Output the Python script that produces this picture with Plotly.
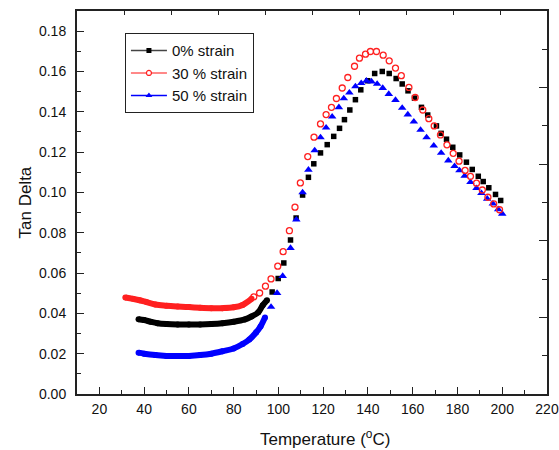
import plotly.graph_objects as go

# ---------------- data ----------------
# dense low-temperature bands
red_band_T = [31.6, 35, 38, 41, 45, 50, 55, 60, 65, 70, 75, 80, 84, 88]
red_band_V = [0.0479, 0.0472, 0.0465, 0.0456, 0.0444, 0.0438, 0.0434, 0.0431, 0.0428, 0.0426, 0.0426, 0.0430, 0.0442, 0.0472]

black_band_T = [37.5, 40, 43, 46, 50, 55, 60, 65, 70, 75, 80, 85, 88, 91, 93, 94.9]
black_band_V = [0.0371, 0.0367, 0.0358, 0.0351, 0.0347, 0.0345, 0.0345, 0.0345, 0.0347, 0.0351, 0.0358, 0.0370, 0.0385, 0.0405, 0.0440, 0.0465]

blue_band_T = [37.5, 40, 45, 50, 55, 60, 65, 70, 75, 80, 84, 87, 90, 92, 94]
blue_band_V = [0.0205, 0.0200, 0.0193, 0.0189, 0.0188, 0.0189, 0.0193, 0.0200, 0.0212, 0.0226, 0.0248, 0.0270, 0.0305, 0.0335, 0.0380]

# sparse points
red_T = [89.0, 91.6, 94.2, 96.7, 99.7, 102.1, 104.9, 107.4, 109.8, 113.1, 115.9, 118.8, 121.3, 123.7,
         125.9, 128.5, 131.0, 134.0, 136.2, 138.9, 141.1, 143.8, 146.8, 149.5, 152.3, 154.9, 158.3,
         161.1, 164.5, 167.2, 169.6, 172.4, 175.3, 178.1, 180.7, 183.4, 185.8, 188.5, 191.1, 193.6,
         196.2, 198.8]
red_V = [0.0482, 0.0501, 0.0535, 0.0571, 0.0634, 0.0706, 0.0810, 0.0927, 0.1047, 0.1178, 0.1274, 0.1340,
         0.1386, 0.1422, 0.1466, 0.1518, 0.1570, 0.1626, 0.1666, 0.1686, 0.1699, 0.1699, 0.1681, 0.1653,
         0.1617, 0.1579, 0.1521, 0.1471, 0.1409, 0.1366, 0.1330, 0.1285, 0.1236, 0.1194, 0.1155, 0.1109,
         0.1080, 0.1046, 0.1012, 0.0976, 0.0943, 0.0914]

black_T = [97.2, 99.9, 102.4, 105.4, 107.9, 110.8, 113.4, 115.8, 118.8, 121.8, 124.7, 127.3, 129.5, 131.9,
           134.4, 136.8, 139.9, 143.0, 146.4, 149.5, 152.6, 155.3, 157.9, 160.8, 163.9, 166.7, 170.6,
           172.7, 175.1, 177.9, 181.0, 184.0, 186.6, 189.3, 191.5, 194.0, 197.0, 199.3]
black_V = [0.0506, 0.0573, 0.0650, 0.0764, 0.0873, 0.0987, 0.1075, 0.1142, 0.1196, 0.1237, 0.1278, 0.1318,
           0.1361, 0.1409, 0.1460, 0.1509, 0.1554, 0.1590, 0.1600, 0.1590, 0.1565, 0.1538, 0.1504, 0.1468,
           0.1422, 0.1384, 0.1330, 0.1293, 0.1264, 0.1224, 0.1186, 0.1150, 0.1114, 0.1080, 0.1054, 0.1023,
           0.0990, 0.0960]

blue_T = [96.7, 99.4, 101.9, 105.4, 108.0, 110.8, 113.4, 116.2, 118.8, 121.3, 124.0, 127.0, 129.2, 131.7,
          134.4, 137.0, 139.3, 141.6, 144.1, 146.6, 149.3, 152.3, 155.3, 157.8, 160.5, 163.5, 166.2,
          169.4, 172.7, 175.9, 178.7, 180.9, 183.2, 185.8, 188.5, 190.7, 193.3, 195.8, 198.2, 200.0]
blue_V = [0.0432, 0.0501, 0.0585, 0.0724, 0.0865, 0.1000, 0.1112, 0.1208, 0.1273, 0.1321, 0.1376, 0.1422,
          0.1466, 0.1495, 0.1526, 0.1542, 0.1554, 0.1550, 0.1538, 0.1518, 0.1488, 0.1458, 0.1419, 0.1386,
          0.1351, 0.1310, 0.1273, 0.1232, 0.1196, 0.1158, 0.1130, 0.1109, 0.1082, 0.1051, 0.1021, 0.0996,
          0.0968, 0.0944, 0.0916, 0.0894]

series_names = ["0% strain", "30 % strain", "50 % strain"]
x_ticks = [20, 40, 60, 80, 100, 120, 140, 160, 180, 200, 220]
y_ticks = [0.00, 0.02, 0.04, 0.06, 0.08, 0.10, 0.12, 0.14, 0.16, 0.18]
X_RANGE = [10, 220]
Y_RANGE = [0, 0.19]

# ---------------- styles ----------------
BLACK, RED, BLUE = "#000000", "#ff2020", "#0000ff"
FONT = "Liberation Sans, Arial, sans-serif"

fig = go.Figure()

# bands
for T, V, c in [(red_band_T, red_band_V, RED), (black_band_T, black_band_V, BLACK), (blue_band_T, blue_band_V, BLUE)]:
    fig.add_trace(go.Scatter(x=T, y=V, mode="lines+markers", line=dict(color=c, width=6, shape="spline"),
                             marker=dict(color=c, size=6, symbol="circle"), showlegend=False, hoverinfo="skip"))

# sparse markers (red on the top frame axis, blue on the right frame axis; both share the main ranges)
fig.add_trace(go.Scatter(x=black_T, y=black_V, mode="markers", showlegend=False,
                         marker=dict(symbol="square", size=5.5, color=BLACK)))
fig.add_trace(go.Scatter(x=red_T, y=red_V, mode="markers", showlegend=False, xaxis="x2", yaxis="y",
                         marker=dict(symbol="circle-open", size=6, color=RED, line=dict(width=1.3, color=RED))))
fig.add_trace(go.Scatter(x=blue_T, y=blue_V, mode="markers", showlegend=False, xaxis="x", yaxis="y2",
                         marker=dict(symbol="triangle-up", size=7.5, color=BLUE)))

# legend entries
fig.add_trace(go.Scatter(x=[None], y=[None], mode="lines+markers", name=series_names[0],
                         line=dict(color="#444444", width=1.5), marker=dict(symbol="square", size=5, color=BLACK)))
fig.add_trace(go.Scatter(x=[None], y=[None], mode="lines+markers", name=series_names[1],
                         line=dict(color="#ff6060", width=1.5),
                         marker=dict(symbol="circle", size=5, color="white", line=dict(width=1.2, color=RED))))
fig.add_trace(go.Scatter(x=[None], y=[None], mode="lines+markers", name=series_names[2],
                         line=dict(color=BLUE, width=1.5), marker=dict(symbol="triangle-up", size=6, color=BLUE)))

AX = "#222222"
fig.update_layout(
    width=559, height=450,
    margin=dict(l=77, r=12, t=11, b=56, autoexpand=False),
    paper_bgcolor="white", plot_bgcolor="white",
    font=dict(family=FONT, size=14, color="#111111"),
    showlegend=True,
    legend=dict(x=0.102, y=0.942, xanchor="left", yanchor="top",
                bordercolor="#222222", borderwidth=1, bgcolor="white",
                font=dict(size=15, family=FONT, color="#111111"),
                tracegroupgap=0, itemwidth=36),
    xaxis=dict(range=X_RANGE, tickvals=x_ticks, ticktext=[str(v) for v in x_ticks],
               ticks="inside", ticklen=7, tickwidth=1, tickcolor=AX,
               minor=dict(dtick=10, tick0=0, ticks="inside", ticklen=4, tickwidth=1, tickcolor=AX),
               showline=True, linewidth=2, linecolor=AX, mirror=True, showgrid=False, zeroline=False,
               tickfont=dict(size=14), ticklabelstandoff=1),
    yaxis=dict(range=Y_RANGE, tickvals=y_ticks, ticktext=[f"{v:.2f}" for v in y_ticks],
               ticks="inside", ticklen=7, tickwidth=1, tickcolor=AX,
               minor=dict(dtick=0.01, tick0=0, ticks="inside", ticklen=4, tickwidth=1, tickcolor=AX),
               showline=True, linewidth=2, linecolor=AX, mirror=True, showgrid=False, zeroline=False,
               tickfont=dict(size=14), ticklabelstandoff=6),
    # top frame: ticks every 1/10 of the width (as in the reference), no labels
    xaxis2=dict(overlaying="x", side="top", anchor="y", range=X_RANGE, tick0=X_RANGE[0],
                dtick=(X_RANGE[1] - X_RANGE[0]) / 10,
                ticks="inside", ticklen=4, tickwidth=1, tickcolor=AX, showticklabels=False,
                showline=True, linewidth=2, linecolor=AX, showgrid=False, zeroline=False),
    # right frame: alternating long/short ticks every 1/10 of the height, no labels
    yaxis2=dict(overlaying="y", side="right", anchor="x", range=Y_RANGE, tick0=0,
                dtick=(Y_RANGE[1] - Y_RANGE[0]) / 5,
                ticks="inside", ticklen=8, tickwidth=1, tickcolor=AX, showticklabels=False,
                minor=dict(dtick=(Y_RANGE[1] - Y_RANGE[0]) / 10, tick0=0, ticks="inside", ticklen=5,
                           tickwidth=1, tickcolor=AX),
                showline=True, linewidth=2, linecolor=AX, showgrid=False, zeroline=False),
    annotations=[
        dict(text="Temperature (<sup>o</sup>C)", xref="paper", yref="paper", x=(325 - 77) / 470, y=(394 - 438) / 383,
             xanchor="center", yanchor="middle", showarrow=False, font=dict(size=17, family=FONT, color="#111111")),
        dict(text="Tan Delta", xref="paper", yref="paper", x=(25 - 77) / 470, y=0.5, textangle=-90,
             xanchor="center", yanchor="middle", showarrow=False, font=dict(size=17, family=FONT, color="#111111")),
    ],
)

# remove the browser's default 8px page margin so the 559x450 figure fills the window exactly
fig.write_html("out.html", config={"displayModeBar": False},
               post_script="document.body.style.margin='0px';document.body.style.overflow='hidden';"
                           "document.documentElement.style.overflow='hidden';")
